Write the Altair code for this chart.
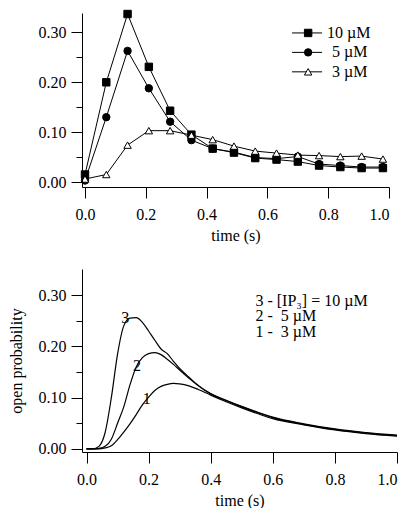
import altair as alt
import pandas as pd

FONT = "Liberation Serif"

# ---------------- top panel data ----------------
t_top = [0.0, 0.07, 0.14, 0.21, 0.28, 0.35, 0.42, 0.49, 0.56, 0.63, 0.70, 0.77, 0.84, 0.91, 0.98]
p10 = [0.015, 0.200, 0.337, 0.231, 0.143, 0.095, 0.067, 0.059, 0.048, 0.045, 0.041, 0.033, 0.030, 0.028, 0.028]
p5 = [0.003, 0.130, 0.263, 0.188, 0.121, 0.084, 0.067, 0.060, 0.049, 0.047, 0.051, 0.036, 0.033, 0.030, 0.030]
p3 = [0.006, 0.015, 0.074, 0.103, 0.103, 0.094, 0.085, 0.072, 0.062, 0.058, 0.054, 0.053, 0.051, 0.052, 0.046]
series_names = ["10 µM", "5 µM", "3 µM"]
series_shapes = ["square", "circle", "triangle-up"]
series_fills = ["black", "black", "white"]

# ---------------- bottom panel data ----------------
t_bot = [0.0, 0.02, 0.04, 0.06, 0.08, 0.10, 0.12, 0.14, 0.16, 0.18, 0.20, 0.22, 0.24, 0.26,
         0.28, 0.30, 0.33, 0.36, 0.40, 0.45, 0.50, 0.55, 0.60, 0.70, 0.80, 0.90, 1.00]
c3 = [0.0, 0.000, 0.005, 0.032, 0.100, 0.185, 0.240, 0.255, 0.256, 0.247, 0.230, 0.212, 0.195, 0.186,
      0.171, 0.157, 0.140, 0.124, 0.108, 0.095, 0.083, 0.072, 0.062, 0.049, 0.039, 0.032, 0.027]
c2 = [0.0, 0.000, 0.001, 0.005, 0.019, 0.050, 0.082, 0.125, 0.160, 0.178, 0.186, 0.188, 0.184, 0.175,
      0.165, 0.154, 0.138, 0.123, 0.107, 0.094, 0.082, 0.071, 0.061, 0.048, 0.038, 0.031, 0.026]
c1 = [0.0, 0.000, 0.000, 0.002, 0.006, 0.018, 0.033, 0.049, 0.067, 0.086, 0.101, 0.114, 0.122, 0.126,
      0.128, 0.127, 0.123, 0.116, 0.105, 0.092, 0.080, 0.069, 0.059, 0.047, 0.037, 0.030, 0.025]
curve_labels = ["3", "2", "1"]
curve_label_t = [0.125, 0.163, 0.194]
curve_label_v = [0.255, 0.162, 0.097]
legend_lines = ["3 - [IP₃] = 10 µM", "2 -\u00a0 5 µM", "1 -\u00a0 3 µM"]

x_ticks = [0.0, 0.2, 0.4, 0.6, 0.8, 1.0]
y_ticks = [0.0, 0.1, 0.2, 0.3]
y_minor = [0.05, 0.15, 0.25]

TOP_W, TOP_H = 307, 174
BOT_W, BOT_H = 315, 183

# ---------------- tables ----------------
rows = []
for name, vals in zip(series_names, [p10, p5, p3]):
    for t, v in zip(t_top, vals):
        rows.append({"t": t, "v": v, "series": name})
top_df = pd.DataFrame(rows)

leg_y = [0.299, 0.260, 0.221]
leg_tx = [0.796, 0.8125, 0.8125]
leg_df = pd.DataFrame({"series": series_names, "y": leg_y, "x0": [0.681] * 3,
                       "x1": [0.780] * 3, "xm": [0.734] * 3, "xt": leg_tx})

rows = []
for name, vals in zip(["3", "2", "1"], [c3, c2, c1]):
    for t, v in zip(t_bot, vals):
        rows.append({"t": t, "v": v, "curve": name})
bot_df = pd.DataFrame(rows)
lab_df = pd.DataFrame({"t": curve_label_t, "v": curve_label_v, "label": curve_labels})
txt_df = pd.DataFrame({"t": [0.544] * 3, "v": [0.289, 0.260, 0.229], "label": legend_lines})
minor_df = pd.DataFrame({"v": y_minor})

# ---------------- scales / axes ----------------
top_x = alt.Scale(domain=[-0.0099, 1.0], nice=False, zero=False)
top_y = alt.Scale(domain=[-0.010, 0.339], nice=False, zero=False)
bot_x = alt.Scale(domain=[-0.0145, 1.0], nice=False, zero=False)
bot_y = alt.Scale(domain=[-0.006, 0.351], nice=False, zero=False)

AX = dict(domain=True, domainColor="black", domainWidth=1, domainOpacity=1,
          tickColor="black", tickWidth=1, zindex=1, grid=False)


def x_axis():
    return alt.Axis(values=x_ticks, format=".1f", title="time (s)", tickSize=11,
                    labelPadding=8, titlePadding=5, **AX)


def y_axis(title):
    kw = dict(values=y_ticks, format=".2f", tickSize=11, labelPadding=5, orient="left", **AX)
    if title:
        kw.update(title=title, titlePadding=14)
    else:
        kw.update(title=None)
    return alt.Axis(**kw)


def minor_layer(yscale):
    return alt.Chart(minor_df).mark_point(opacity=0).encode(
        y=alt.Y("v:Q", scale=yscale,
                axis=alt.Axis(values=y_minor, labels=False, tickSize=6, domain=False,
                              tickColor="black", zindex=1,
                              grid=False, title=None, orient="left"))
    )


shape_scale = alt.Scale(domain=series_names, range=series_shapes)
fill_scale = alt.Scale(domain=series_names, range=series_fills)

# ---------------- top panel ----------------
base_top = alt.Chart(top_df)
top_lines = base_top.mark_line(color="black", strokeWidth=1).encode(
    x=alt.X("t:Q", scale=top_x, axis=x_axis()),
    y=alt.Y("v:Q", scale=top_y, axis=y_axis(None)),
    detail="series:N",
)
top_pts = base_top.mark_point(size=55, strokeWidth=1, opacity=1, color="black").encode(
    x=alt.X("t:Q", scale=top_x),
    y=alt.Y("v:Q", scale=top_y, axis=None),
    shape=alt.Shape("series:N", scale=shape_scale, legend=None),
    fill=alt.Fill("series:N", scale=fill_scale, legend=None),
)
leg_base = alt.Chart(leg_df)
leg_rule = leg_base.mark_rule(color="black", strokeWidth=1).encode(
    x=alt.X("x0:Q", scale=top_x), x2="x1:Q",
    y=alt.Y("y:Q", scale=top_y, axis=None))
leg_pts = leg_base.mark_point(size=55, strokeWidth=1, opacity=1, color="black").encode(
    x=alt.X("xm:Q", scale=top_x), y=alt.Y("y:Q", scale=top_y, axis=None),
    shape=alt.Shape("series:N", scale=shape_scale, legend=None),
    fill=alt.Fill("series:N", scale=fill_scale, legend=None),
)
leg_txt = leg_base.mark_text(align="left", baseline="middle", font=FONT, fontSize=16,
                             color="black").encode(
    x=alt.X("xt:Q", scale=top_x), y=alt.Y("y:Q", scale=top_y, axis=None),
    text="series:N")

top = alt.layer(top_lines, top_pts, leg_rule, leg_pts, leg_txt, minor_layer(top_y)).resolve_axis(
    y="independent").properties(width=TOP_W, height=TOP_H)

# ---------------- bottom panel ----------------
bot_lines = alt.Chart(bot_df).mark_line(color="black", strokeWidth=1.2, interpolate="monotone").encode(
    x=alt.X("t:Q", scale=bot_x, axis=x_axis()),
    y=alt.Y("v:Q", scale=bot_y, axis=y_axis("open probability")),
    detail="curve:N",
)
bot_labels = alt.Chart(lab_df).mark_text(font=FONT, fontSize=16, color="black",
                                         baseline="middle", align="center").encode(
    x=alt.X("t:Q", scale=bot_x), y=alt.Y("v:Q", scale=bot_y, axis=None),
    text="label:N")
bot_txt = alt.Chart(txt_df).mark_text(font=FONT, fontSize=16, color="black",
                                      baseline="middle", align="left").encode(
    x=alt.X("t:Q", scale=bot_x), y=alt.Y("v:Q", scale=bot_y, axis=None),
    text="label:N")

bottom = alt.layer(bot_lines, bot_labels, bot_txt, minor_layer(bot_y)).resolve_axis(
    y="independent").properties(width=BOT_W, height=BOT_H)

chart = alt.vconcat(top, bottom, spacing=26).properties(
    padding={"left": 0, "top": 0, "right": 0, "bottom": 0}
).configure_view(stroke=None).configure_axis(
    labelFont=FONT, labelFontSize=16, labelColor="black",
    titleFont=FONT, titleFontSize=16, titleFontWeight="normal", titleColor="black",
    domainColor="black", tickColor="black", domainWidth=1, tickWidth=1,
).configure_text(font=FONT)

chart.save("out.html", embed_options={"renderer": "svg", "actions": False})
